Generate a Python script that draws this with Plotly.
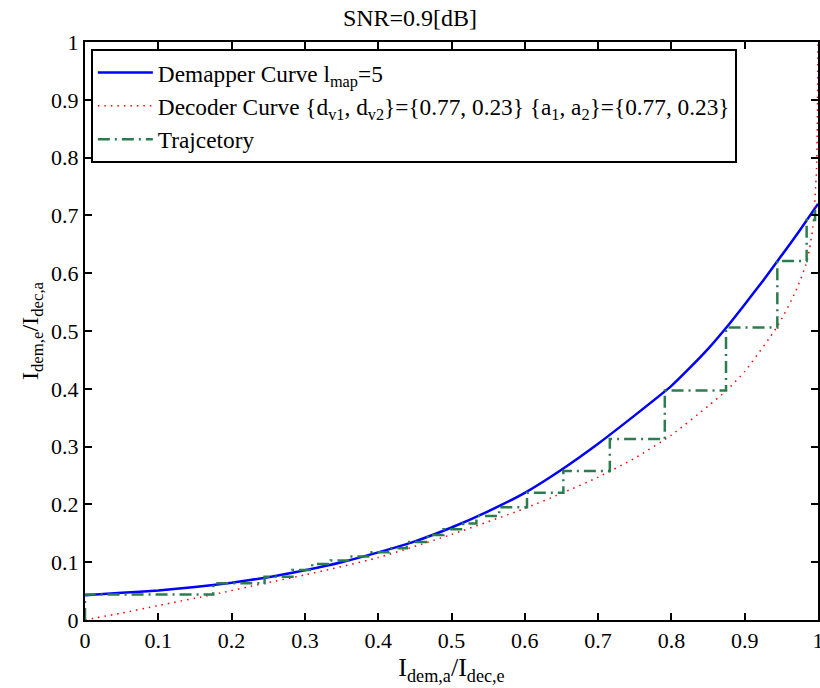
import plotly.graph_objects as go

# Demapper EXIT curve
dem_x = [0.0, 0.05, 0.1, 0.15, 0.2, 0.25, 0.3, 0.35, 0.4, 0.45, 0.5, 0.55, 0.6, 0.65, 0.7, 0.75, 0.8, 0.825, 0.85, 0.875, 0.9, 0.925, 0.95, 0.975, 1.0]
dem_y = [0.043, 0.047, 0.051, 0.057, 0.0645, 0.074, 0.086, 0.10, 0.117, 0.136, 0.16, 0.188, 0.22, 0.26, 0.305, 0.354, 0.405, 0.436, 0.469, 0.506, 0.546, 0.587, 0.63, 0.674, 0.72]

# Decoder EXIT curve (swapped axes)
dec_x = [0.0, 0.05, 0.1, 0.175, 0.245, 0.3, 0.4, 0.5, 0.6, 0.65, 0.7, 0.75, 0.8, 0.85, 0.875, 0.9, 0.945, 0.97, 0.985, 0.993, 0.998, 1.0]
dec_y = [0.0, 0.012, 0.025, 0.044, 0.0635, 0.078, 0.108, 0.148, 0.193, 0.219, 0.247, 0.28, 0.32, 0.37, 0.397, 0.43, 0.509, 0.57, 0.621, 0.68, 0.78, 1.0]

# Trajectory step corners
traj_x = [0.0, 0.175, 0.245, 0.283, 0.31, 0.335, 0.362, 0.391, 0.415, 0.439, 0.4675, 0.489, 0.516, 0.534, 0.565, 0.603, 0.6526, 0.716, 0.791, 0.8745, 0.9445, 0.9845, 0.996]
traj_y = [0.044, 0.0635, 0.075, 0.0865, 0.097, 0.103, 0.11, 0.117, 0.124, 0.135, 0.147, 0.157, 0.167, 0.18, 0.195, 0.22, 0.258, 0.313, 0.397, 0.506, 0.621, 0.692, 0.712]

tx, ty = [traj_x[0]], [0.0]
for i in range(len(traj_x)):
    tx.append(traj_x[i]); ty.append(traj_y[i])
    if i + 1 < len(traj_x):
        tx.append(traj_x[i + 1]); ty.append(traj_y[i])

FONT = "Liberation Serif, Times New Roman, serif"
FS = 22

fig = go.Figure()
fig.add_trace(go.Scatter(x=dem_x, y=dem_y, mode="lines", line=dict(color="#0000ff", width=2.5, shape="spline", smoothing=0.5),
                         name="Demapper Curve l<sub>map</sub>=5"))
fig.add_trace(go.Scatter(x=dec_x, y=dec_y, mode="lines", line=dict(color="#ff0000", width=1.5, dash="1.5px,5px", shape="spline", smoothing=0.6),
                         name="Decoder Curve {d<sub>v1</sub>, d<sub>v2</sub>}={0.77, 0.23} {a<sub>1</sub>, a<sub>2</sub>}={0.77, 0.23}"))
fig.add_trace(go.Scatter(x=tx, y=ty, mode="lines", line=dict(color="#2b7d50", width=2.5, dash="12px,5px,2px,5px"),
                         name="Trajcetory"))

axis_common = dict(range=[0, 1], dtick=0.1, tick0=0, showgrid=False, zeroline=False,
                   showline=True, linecolor="black", linewidth=2, mirror="ticks",
                   ticks="inside", ticklen=7, tickwidth=2, tickcolor="black",
                   ticklabeloverflow="allow", automargin=False,
                   tickfont=dict(family=FONT, size=FS, color="black"))

fig.update_layout(
    width=820, height=688,
    margin=dict(l=85, r=2, t=42, b=68, autoexpand=False),
    paper_bgcolor="white", plot_bgcolor="white",
    font=dict(family=FONT, size=FS, color="black"),
    title=dict(text="SNR=0.9[dB]", x=0.5, xanchor="center", y=0.975, yanchor="middle",
               font=dict(family=FONT, size=24, color="black")),
    xaxis=dict(title=dict(text="I<sub>dem,a</sub>/I<sub>dec,e</sub>", font=dict(family=FONT, size=26), standoff=2), **axis_common),
    yaxis=dict(title=dict(text="I<sub>dem,e</sub>/I<sub>dec,a</sub>", font=dict(family=FONT, size=24), standoff=6), **axis_common),
    legend=dict(x=0.008, y=0.988, xanchor="left", yanchor="top", bgcolor="white",
                bordercolor="black", borderwidth=2, font=dict(family=FONT, size=23.3, color="black"),
                tracegroupgap=0, itemwidth=55),
    showlegend=True,
)

fig.write_html("out.html")
